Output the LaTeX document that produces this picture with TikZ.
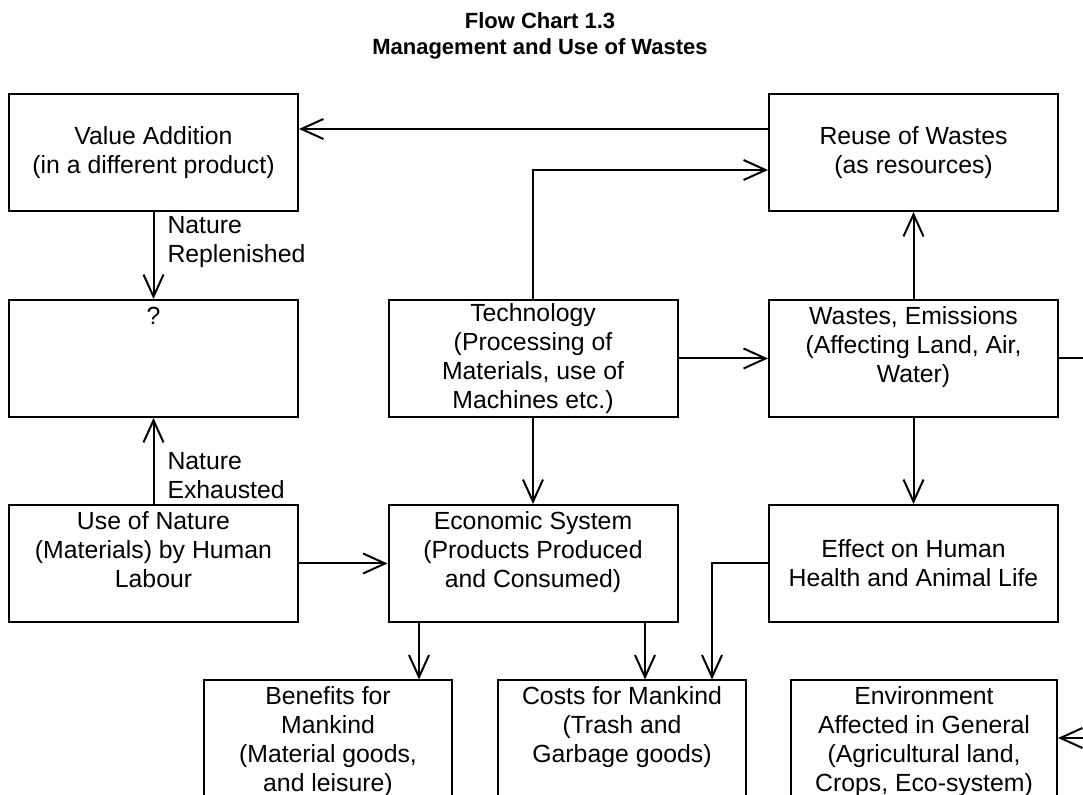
\documentclass[tikz,border=0pt]{standalone}
\usepackage{fontspec}
\setmainfont{Liberation Sans}
\usetikzlibrary{arrows.meta,positioning,calc}

\newcommand{\boxfont}{\fontsize{12.4}{14.5}\selectfont}
\newcommand{\toplines}[2][120pt]{\parbox[c][58.5pt][t]{#1}{\centering\vspace*{1.9pt}\strut #2}}

\tikzset{
  box/.style={draw,line width=1pt,inner sep=0pt,minimum width=144.5pt,
    minimum height=58.5pt,align=center,font=\boxfont},
  lowbox/.style={box,minimum width=124pt},
  flow/.style={line width=1pt,-{Straight Barb[length=11pt,width=10pt]}},
  lbl/.style={anchor=west,align=left,inner sep=0pt,font=\boxfont},
}

\begin{document}
\begin{tikzpicture}[x=0.5pt,y=-0.5pt]
  \useasboundingbox (0,0) rectangle (1083,795);
  \node[font=\bfseries\fontsize{11}{13}\selectfont,align=center] (title) at (540,36)
    {Flow Chart 1.3\\Management and Use of Wastes};
  % Top row
  \node[box] (value) at (153.5,152.5) {Value Addition\\(in a different product)};
  \node[box] (reuse) at (913.5,152.5) {Reuse of Wastes\\(as resources)};
  % Second row
  \node[box] (unknown) at (153.5,358.5) {\toplines{?}};
  \node[box] (tech) at (533,358.5)
    {Technology\\(Processing of\\Materials, use of\\Machines etc.)};
  \node[box] (wastes) at (913.5,358.5)
    {\toplines{Wastes, Emissions\\(Affecting Land, Air,\\Water)}};
  % Third row
  \node[box] (nature) at (153.5,563.5)
    {\toplines{Use of Nature\\(Materials) by Human\\Labour}};
  \node[box] (economy) at (533,563.5)
    {\toplines{Economic System\\(Products Produced\\and Consumed)}};
  \node[box] (effect) at (913.5,563.5) {Effect on Human\\Health and Animal Life};
  % Bottom row, cut by the page
  \node[lowbox] (benefits) at (328,739)
    {\toplines{Benefits for\\Mankind\\(Material goods,\\and leisure)}};
  \node[lowbox] (costs) at (622,739)
    {\toplines{Costs for Mankind\\(Trash and\\Garbage goods)}};
  \node[lowbox,minimum width=133pt] (environ) at (924,739)
    {\toplines{Environment\\Affected in General\\(Agricultural land,\\Crops, Eco-system)}};
  % Connectors
  \coordinate (rimW) at (1083,358.5);
  \coordinate (rimE) at (1083,738);
  \draw[flow] (reuse.west |- 0,129) -- (value.east |- 0,129);
  \draw[flow] (tech.north) |- (reuse.west |- 0,170);
  \draw[flow] (value.south) -- (unknown.north)
    node[lbl,pos=0.35,xshift=6.5pt]{Nature\\Replenished};
  \draw[flow] (nature.north) -- (unknown.south)
    node[lbl,pos=0.33,xshift=6.5pt]{Nature\\Exhausted};
  \draw[flow] (tech.east) -- (wastes.west);
  \draw[flow] (wastes.north) -- (reuse.south);
  \draw[line width=1pt] (wastes.east) -- (rimW);
  \draw[flow] (wastes.south) -- (effect.north);
  \draw[flow] (nature.east) -- (economy.west);
  \draw[flow] (tech.south) -- (economy.north);
  \draw[flow] (economy.south -| 419,0) -- (benefits.north -| 419,0);
  \draw[flow] (economy.south -| 645,0) -- (costs.north -| 645,0);
  \draw[flow] (effect.west) -| (costs.north -| 712,0);
  \draw[flow] (rimE) -- (environ.east |- rimE);
\end{tikzpicture}
\end{document}
